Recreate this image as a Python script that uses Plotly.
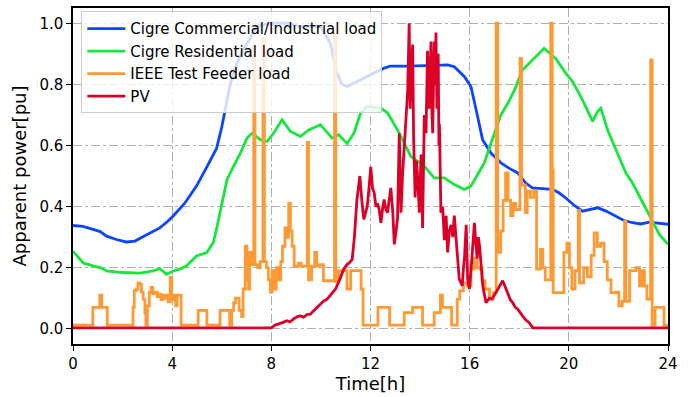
import plotly.graph_objects as go

# ---------------- data ----------------
com_t = [0, 0.4, 0.81, 1.1, 1.35, 1.75, 2.15, 2.5, 2.8, 3.1, 3.5, 3.8, 4.04, 4.5, 4.98, 5.4, 5.79, 6.0, 6.1,
         6.34, 6.61, 7.02, 7.42, 7.96, 8.63, 9.1, 9.44, 9.98, 10.2, 10.38, 10.65, 10.85, 11.06, 11.46, 11.87,
         12.2, 12.55, 12.8, 13.5, 14.2, 14.6, 15.11, 15.38, 15.79, 16.05, 16.32, 16.52, 16.86, 17.26, 17.6,
         17.94, 18.26, 18.53, 19.34, 19.6, 19.88, 20.2, 20.55, 20.85, 21.16, 21.5, 21.77, 22.2, 22.57, 22.9,
         23.25, 23.6, 24]
com_v = [0.338, 0.335, 0.325, 0.318, 0.303, 0.292, 0.284, 0.287, 0.30, 0.314, 0.33, 0.35, 0.369, 0.41, 0.467,
         0.53, 0.59, 0.66, 0.70, 0.80, 0.87, 0.934, 0.99, 1.0, 1.0, 0.99, 0.99, 0.99, 0.96, 0.934, 0.836, 0.80,
         0.793, 0.81, 0.825, 0.84, 0.853, 0.86, 0.86, 0.86, 0.862, 0.864, 0.858, 0.825, 0.793, 0.695, 0.619,
         0.575, 0.543, 0.525, 0.51, 0.477, 0.461, 0.456, 0.445, 0.428, 0.405, 0.385, 0.39, 0.396, 0.385, 0.374,
         0.355, 0.347, 0.343, 0.349, 0.345, 0.342]

res_t = [0, 0.2, 0.4, 0.81, 1.1, 1.35, 2.02, 2.69, 3.23, 3.5, 3.77, 4.04, 4.3, 4.58, 4.98, 5.39, 5.66, 5.8,
         5.93, 6.06, 6.21, 6.48, 6.75, 7.02, 7.22, 7.56, 7.83, 8.09, 8.43, 8.77, 9.17, 9.51, 9.98, 10.45,
         10.72, 11.06, 11.33, 11.6, 11.87, 12.42, 12.69, 13.09, 13.36, 13.63, 14.17, 14.57, 14.98, 15.38,
         15.79, 16.05, 16.32, 16.59, 17.0, 17.26, 17.54, 17.81, 18.13, 18.4, 18.67, 19.0, 19.47, 19.88,
         20.15, 20.55, 20.96, 21.15, 21.29, 21.56, 21.9, 22.3, 22.57, 22.98, 23.38, 23.65, 24]
res_v = [0.254, 0.235, 0.216, 0.206, 0.2, 0.189, 0.184, 0.182, 0.189, 0.197, 0.178, 0.189, 0.195, 0.206,
         0.238, 0.249, 0.282, 0.33, 0.38, 0.44, 0.488, 0.532, 0.575, 0.624, 0.64, 0.619, 0.613, 0.64, 0.684,
         0.646, 0.63, 0.651, 0.668, 0.624, 0.635, 0.606, 0.64, 0.706, 0.728, 0.722, 0.706, 0.651, 0.608,
         0.564, 0.532, 0.494, 0.494, 0.472, 0.456, 0.467, 0.505, 0.543, 0.64, 0.7, 0.738, 0.782, 0.847,
         0.869, 0.891, 0.918, 0.885, 0.836, 0.809, 0.749, 0.679, 0.71, 0.722, 0.651, 0.586, 0.51, 0.477,
         0.412, 0.347, 0.309, 0.276]

ieee_t = [0.0, 0.80, 1.08, 1.16, 1.38, 2.42, 2.47, 2.55, 2.62, 2.70, 2.76, 2.83, 2.90, 2.94, 3.00, 3.08,
          3.15, 3.22, 3.30, 3.40, 3.47, 3.55, 3.62, 3.70, 3.78, 3.84, 3.92, 3.98, 4.06, 4.14, 4.20, 4.36,
          5.05, 5.40, 5.93, 6.32, 6.40, 6.48, 6.55, 6.70, 6.80, 6.86, 6.95, 7.02, 7.08, 7.12, 7.18, 7.24,
          7.29, 7.34, 7.45, 7.55, 7.66, 7.72, 7.80, 7.88, 7.96, 8.03, 8.12, 8.20, 8.30, 8.38, 8.45, 8.55,
          8.62, 8.70, 8.77, 8.84, 8.92, 9.10, 9.20, 9.45, 9.50, 9.62, 9.75, 9.83, 9.95, 10.10, 10.55, 10.60,
          10.72, 11.05, 11.20, 11.62, 11.70, 12.30, 12.77, 13.36, 13.70, 14.10, 14.57, 14.82, 14.90, 15.27,
          15.50, 15.60, 15.75, 15.90, 16.05, 16.18, 16.30, 16.42, 16.50, 16.62, 16.80, 16.95, 17.07, 17.13,
          17.25, 17.35, 17.45, 17.55, 17.65, 17.75, 17.85, 18.03, 18.09, 18.25, 18.32, 18.45, 18.58, 18.70,
          18.85, 18.95, 19.05, 19.27, 19.33, 19.37, 19.80, 19.92, 20.02, 20.12, 20.25, 20.38, 20.43, 20.60,
          20.75, 20.90, 21.02, 21.15, 21.28, 21.42, 21.55, 21.70, 21.90, 22.02, 22.15, 22.25, 22.30, 22.45,
          22.70, 22.85, 22.95, 23.05, 23.15, 23.30, 23.36, 23.48, 23.84, 24.0]
ieee_v = [0.012, 0.07, 0.11, 0.07, 0.012, 0.07, 0.125, 0.13, 0.15, 0.145, 0.12, 0.097, 0.05, 0.012, 0.075,
          0.12, 0.135, 0.115, 0.12, 0.105, 0.113, 0.095, 0.11, 0.1, 0.11, 0.088, 0.168, 0.095, 0.11, 0.075,
          0.11, 0.012, 0.06, 0.012, 0.06, 0.012, 0.06, 0.085, 0.10, 0.06, 0.04, 0.13, 0.27, 0.16, 0.13, 0.25,
          0.21, 0.24, 0.92, 0.21, 0.2, 0.22, 0.95, 0.22, 0.2, 0.16, 0.12, 0.19, 0.13, 0.2, 0.16, 0.22, 0.27,
          0.33, 0.3, 0.41, 0.32, 0.27, 0.205, 0.215, 0.205, 0.61, 0.16, 0.205, 0.25, 0.205, 0.21, 0.157,
          0.965, 0.155, 0.19, 0.13, 0.19, 0.13, 0.012, 0.07, 0.012, 0.053, 0.07, 0.012, 0.053, 0.11, 0.07,
          0.012, 0.097, 0.124, 0.15, 0.14, 0.195, 0.23, 0.2, 0.195, 0.157, 0.13, 0.097, 0.118, 1.0, 0.25,
          0.32, 0.42, 0.51, 0.42, 0.37, 0.41, 0.39, 0.885, 0.47, 0.38, 0.45, 0.43, 0.45, 0.195, 0.26, 0.2,
          0.16, 1.0, 0.52, 0.118, 0.25, 0.28, 0.2, 0.13, 0.19, 0.387, 0.15, 0.2, 0.17, 0.24, 0.314, 0.27,
          0.28, 0.22, 0.16, 0.118, 0.12, 0.075, 0.09, 0.352, 0.09, 0.19, 0.2, 0.14, 0.19, 0.14, 0.097, 0.88,
          0.012, 0.07, 0.012, 0.012]

pv_t = [0, 8.0, 8.15, 8.3, 8.45, 8.63, 8.75, 8.9, 9.05, 9.17, 9.3, 9.45, 9.58, 9.72, 9.85, 10.0, 10.1, 10.25,
        10.4, 10.59, 10.75, 10.92, 11.05, 11.15, 11.26, 11.35, 11.45, 11.57, 11.65, 11.73, 11.8, 11.87,
        11.95, 12.01, 12.08, 12.15, 12.22, 12.28, 12.35, 12.42, 12.5, 12.55, 12.62, 12.69, 12.75, 12.82,
        12.9, 12.96, 13.03, 13.09, 13.16, 13.23, 13.29, 13.36, 13.43, 13.5, 13.56, 13.6, 13.65, 13.7, 13.74,
        13.8, 13.85, 13.9, 13.97, 14.04, 14.1, 14.17, 14.24, 14.3, 14.34, 14.37, 14.42, 14.44, 14.48, 14.51,
        14.55, 14.57, 14.61, 14.64, 14.68, 14.73, 14.76, 14.78, 14.84, 14.91, 14.98, 15.05, 15.11, 15.18,
        15.25, 15.32, 15.38, 15.45, 15.52, 15.58, 15.65, 15.7, 15.75, 15.79, 15.86, 15.92, 15.99, 16.05,
        16.09, 16.15, 16.19, 16.25, 16.3, 16.35, 16.4, 16.47, 16.53, 16.6, 16.66, 16.8, 16.9, 17.0, 17.13,
        17.25, 17.33, 17.42, 17.53, 17.64, 17.74, 17.84, 17.94, 18.05, 18.13, 18.25, 18.4, 18.55, 24]
pv_v = [0.003, 0.003, 0.012, 0.015, 0.02, 0.026, 0.022, 0.032, 0.04, 0.042, 0.038, 0.047, 0.048, 0.06, 0.07,
        0.08, 0.09, 0.097, 0.11, 0.13, 0.16, 0.195, 0.21, 0.216, 0.227, 0.3, 0.42, 0.5, 0.42, 0.358, 0.38,
        0.401, 0.47, 0.53, 0.46, 0.445, 0.40, 0.41, 0.39, 0.347, 0.4, 0.423, 0.39, 0.38, 0.42, 0.461, 0.38,
        0.276, 0.32, 0.36, 0.64, 0.38, 0.5, 0.597, 0.72, 0.78, 1.0, 0.72, 0.85, 0.93, 0.62, 0.43, 0.55, 0.5,
        0.38, 0.57, 0.33, 0.7, 0.64, 0.91, 0.78, 0.72, 0.88, 0.94, 0.7, 0.64, 0.85, 0.94, 0.8, 0.97, 0.72,
        0.9, 0.6, 0.67, 0.38, 0.4, 0.29, 0.37, 0.25, 0.32, 0.34, 0.3, 0.37, 0.3, 0.2, 0.162, 0.15, 0.14, 0.2,
        0.23, 0.34, 0.16, 0.13, 0.18, 0.23, 0.3, 0.347, 0.28, 0.23, 0.3, 0.27, 0.2, 0.14, 0.11, 0.085, 0.1,
        0.098, 0.11, 0.13, 0.145, 0.157, 0.14, 0.118, 0.095, 0.085, 0.07, 0.064, 0.05, 0.042, 0.03, 0.02,
        0.003, 0.003]

x_ticks = [0, 4, 8, 12, 16, 20, 24]
y_ticks = [0.0, 0.2, 0.4, 0.6, 0.8, 1.0]
y_tick_text = ["0.0", "0.2", "0.4", "0.6", "0.8", "1.0"]

# ---------------- figure ----------------
LW = 2.8
fig = go.Figure()
fig.add_trace(go.Scatter(x=com_t, y=com_v, mode="lines", name="Cigre Commercial/Industrial load",
                         line=dict(color="#0a45ff", width=LW)))
fig.add_trace(go.Scatter(x=res_t, y=res_v, mode="lines", name="Cigre Residential load",
                         line=dict(color="#14e83c", width=LW)))
fig.add_trace(go.Scatter(x=ieee_t, y=ieee_v, mode="lines", name="IEEE Test Feeder load",
                         line=dict(color="#ff9933", width=LW, shape="hv")))
fig.add_trace(go.Scatter(x=pv_t, y=pv_v, mode="lines", name="PV",
                         line=dict(color="#dc0028", width=LW)))

axis_common = dict(
    showline=True, linecolor="black", linewidth=1.5, mirror=True,
    ticks="outside", ticklen=5, tickwidth=1.2, tickcolor="black",
    showgrid=True, gridcolor="#b0b0b0", gridwidth=1, griddash="dashdot",
    zeroline=False,
    tickfont=dict(family="DejaVu Sans", size=15, color="black"),
)

fig.update_layout(
    width=695, height=397,
    margin=dict(l=73, r=27, t=6, b=53),
    plot_bgcolor="white", paper_bgcolor="white",
    font=dict(family="DejaVu Sans", color="black"),
    xaxis=dict(range=[0, 24], tickvals=x_ticks, ticktext=[str(v) for v in x_ticks],
               title=dict(text="Time[h]", font=dict(size=18), standoff=6), **axis_common),
    yaxis=dict(range=[-0.05, 1.05], tickvals=y_ticks, ticktext=y_tick_text,
               title=dict(text="Apparent power[pu]", font=dict(size=18), standoff=8), **axis_common),
    legend=dict(x=0.014, y=0.99, xanchor="left", yanchor="top",
                bgcolor="rgba(255,255,255,0.8)", bordercolor="#cccccc", borderwidth=1,
                font=dict(family="DejaVu Sans", size=15, color="black"),
                tracegroupgap=0, itemwidth=38),
    showlegend=True,
)

fig.write_html("out.html")
